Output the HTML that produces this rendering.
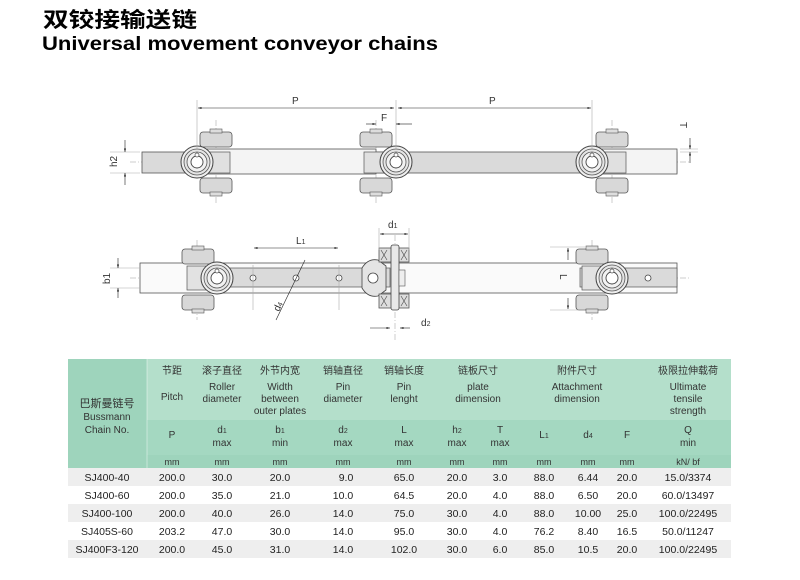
<!DOCTYPE html>
<html><head><meta charset="utf-8"><style>
body{margin:0;background:#fff;width:800px;height:580px;overflow:hidden}
svg{display:block}
text{font-family:"Liberation Sans","Noto Sans CJK SC",sans-serif}
</style></head><body>
<svg width="800" height="580" viewBox="0 0 800 580" xmlns="http://www.w3.org/2000/svg">
<defs>
<marker id="a" viewBox="0 0 10 10" refX="10" refY="5" markerWidth="6" markerHeight="6" orient="auto-start-reverse"><path d="M0,2 L10,5 L0,8z" fill="#222"/></marker>
<g id="blk"><rect x="-16" y="0" width="32" height="15" rx="3" fill="#d8d8d8" stroke="#555" stroke-width="0.8"/><rect x="-6" y="-3" width="12" height="4" fill="#ddd" stroke="#555" stroke-width="0.6"/></g>
<g id="blkb"><rect x="-16" y="0" width="32" height="15" rx="3" fill="#d8d8d8" stroke="#555" stroke-width="0.8"/><rect x="-6" y="14" width="12" height="4" fill="#ddd" stroke="#555" stroke-width="0.6"/></g>
<g id="rol"><circle r="16" fill="#eee" stroke="#444" stroke-width="1"/><circle r="13" fill="#e4e4e4" stroke="#555" stroke-width="0.8"/><circle r="10" fill="#f2f2f2" stroke="#555" stroke-width="0.8"/><circle r="6" fill="#fff" stroke="#444" stroke-width="0.9"/><circle cy="-7" r="2" fill="#fff" stroke="#444" stroke-width="0.7"/></g>
<g id="brg"><rect x="-15" y="0" width="30" height="14" fill="#ddd" stroke="#555" stroke-width="0.8"/><path d="M-13,2 l6,10 M-7,2 l-6,10 M7,2 l6,10 M13,2 l-6,10" stroke="#555" stroke-width="0.7"/></g>
</defs>
<text x="43" y="27" font-size="21" font-weight="bold" textLength="154" lengthAdjust="spacingAndGlyphs">双铰接输送链</text>
<text x="42" y="50" font-size="19.5" font-weight="bold" textLength="396" lengthAdjust="spacingAndGlyphs">Universal movement conveyor chains</text>

<!-- TOP CHAIN -->
<g stroke="#999" stroke-width="0.5" stroke-dasharray="6,2,1,2"><line x1="130" y1="162" x2="690" y2="162"/><line x1="216" y1="120" x2="216" y2="205"/><line x1="376" y1="120" x2="376" y2="205"/><line x1="612" y1="120" x2="612" y2="205"/></g>
<rect x="142" y="152" width="535" height="21" fill="#dadada" stroke="#555" stroke-width="0.8"/>
<rect x="198" y="149" width="178" height="25" fill="#f4f4f4" stroke="#555" stroke-width="0.8"/>
<rect x="592" y="149" width="85" height="25" fill="#f4f4f4" stroke="#555" stroke-width="0.8"/>
<rect x="208" y="152" width="22" height="21" fill="#e0e0e0" stroke="#555" stroke-width="0.7"/>
<rect x="364" y="152" width="22" height="21" fill="#e0e0e0" stroke="#555" stroke-width="0.7"/>
<rect x="604" y="152" width="22" height="21" fill="#e0e0e0" stroke="#555" stroke-width="0.7"/>
<use href="#blk" x="216" y="132"/><use href="#blkb" x="216" y="178"/>
<use href="#blk" x="376" y="132"/><use href="#blkb" x="376" y="178"/>
<use href="#blk" x="612" y="132"/><use href="#blkb" x="612" y="178"/>
<use href="#rol" x="197" y="162"/><use href="#rol" x="396" y="162"/><use href="#rol" x="592" y="162"/>
<g stroke="#222" stroke-width="0.6" fill="none">
<line x1="197" y1="100" x2="197" y2="150" stroke="#aaa"/><line x1="396" y1="100" x2="396" y2="150" stroke="#aaa"/><line x1="592" y1="100" x2="592" y2="150" stroke="#aaa"/>
<line x1="198" y1="108" x2="394" y2="108" marker-start="url(#a)" marker-end="url(#a)"/>
<line x1="398" y1="108" x2="591" y2="108" marker-start="url(#a)" marker-end="url(#a)"/>
<line x1="366" y1="124" x2="376" y2="124" marker-end="url(#a)"/><line x1="412" y1="124" x2="396" y2="124" marker-end="url(#a)"/>
<line x1="110" y1="152" x2="140" y2="152" stroke="#aaa"/><line x1="110" y1="173" x2="140" y2="173" stroke="#aaa"/>
<line x1="125" y1="140" x2="125" y2="152" marker-end="url(#a)"/><line x1="125" y1="185" x2="125" y2="173" marker-end="url(#a)"/>
<line x1="680" y1="149" x2="698" y2="149" stroke="#aaa"/><line x1="680" y1="152" x2="698" y2="152" stroke="#aaa"/>
<line x1="690" y1="138" x2="690" y2="149" marker-end="url(#a)"/><line x1="690" y1="163" x2="690" y2="152" marker-end="url(#a)"/>
</g>
<g font-size="10" fill="#333">
<text x="292" y="104">P</text><text x="489" y="104">P</text><text x="381" y="121">F</text>
<text transform="translate(117,167) rotate(-90)">h2</text>
<text transform="translate(680,122) rotate(90)">T</text>
</g>

<!-- BOTTOM CHAIN -->
<g stroke="#999" stroke-width="0.5" stroke-dasharray="6,2,1,2"><line x1="130" y1="278" x2="690" y2="278"/><line x1="197" y1="240" x2="197" y2="320"/><line x1="592" y1="240" x2="592" y2="320"/><line x1="395" y1="235" x2="395" y2="340"/></g>
<rect x="140" y="263" width="537" height="30" fill="#fafafa" stroke="#555" stroke-width="0.8"/>
<rect x="200" y="268" width="190" height="19" fill="#dadada" stroke="#555" stroke-width="0.7"/>
<rect x="580" y="268" width="97" height="19" fill="#dadada" stroke="#555" stroke-width="0.7"/>
<rect x="187" y="266" width="22" height="24" fill="#e2e2e2" stroke="#555" stroke-width="0.7"/>
<rect x="582" y="266" width="22" height="24" fill="#e2e2e2" stroke="#555" stroke-width="0.7"/>
<use href="#blk" x="198" y="249"/><use href="#blkb" x="198" y="295"/>
<use href="#blk" x="592" y="249"/><use href="#blkb" x="592" y="295"/>
<use href="#rol" x="217" y="278"/><use href="#rol" x="612" y="278"/>
<g fill="#fff" stroke="#444" stroke-width="0.8"><circle cx="253" cy="278" r="3"/><circle cx="296" cy="278" r="3"/><circle cx="339" cy="278" r="3"/><circle cx="648" cy="278" r="3"/></g>
<path d="M362,268 Q368,258 378,260 L386,266 L386,290 L378,296 Q368,298 362,288z" fill="#e4e4e4" stroke="#444" stroke-width="0.8"/>
<circle cx="373" cy="278" r="5" fill="#fff" stroke="#444" stroke-width="0.8"/>
<use href="#brg" x="394" y="248"/><use href="#brg" x="394" y="294"/>
<rect x="391" y="245" width="8" height="65" rx="2" fill="#e8e8e8" stroke="#444" stroke-width="0.8"/>
<rect x="399" y="270" width="6" height="16" fill="#eee" stroke="#555" stroke-width="0.6"/>
<g stroke="#222" stroke-width="0.6" fill="none">
<line x1="253" y1="265" x2="253" y2="310" stroke="#aaa"/><line x1="339" y1="265" x2="339" y2="310" stroke="#aaa"/>
<line x1="254" y1="248" x2="338" y2="248" marker-start="url(#a)" marker-end="url(#a)"/>
<line x1="379" y1="228" x2="379" y2="250" stroke="#aaa"/><line x1="409" y1="228" x2="409" y2="250" stroke="#aaa"/>
<line x1="380" y1="234" x2="408" y2="234" marker-start="url(#a)" marker-end="url(#a)"/>
<line x1="370" y1="328" x2="390" y2="328" marker-end="url(#a)"/><line x1="410" y1="328" x2="400" y2="328" marker-end="url(#a)"/>
<line x1="305" y1="260" x2="276" y2="320"/>
<line x1="550" y1="247" x2="585" y2="247" stroke="#aaa"/><line x1="550" y1="310" x2="585" y2="310" stroke="#aaa"/>
<line x1="568" y1="260" x2="568" y2="248" marker-end="url(#a)"/><line x1="568" y1="298" x2="568" y2="309" marker-end="url(#a)"/>
<line x1="110" y1="268" x2="140" y2="268" stroke="#aaa"/><line x1="110" y1="288" x2="140" y2="288" stroke="#aaa"/>
<line x1="118" y1="258" x2="118" y2="268" marker-end="url(#a)"/><line x1="118" y1="298" x2="118" y2="288" marker-end="url(#a)"/>
</g>
<g font-size="10" fill="#333">
<text x="296" y="244">L<tspan font-size="7">1</tspan></text>
<text x="388" y="228">d<tspan font-size="7">1</tspan></text>
<text x="421" y="326">d<tspan font-size="7">2</tspan></text>
<text transform="translate(279,312) rotate(-65)">d<tspan font-size="7">4</tspan></text>
<text transform="translate(560,274) rotate(90)">L</text>
<text transform="translate(110,284) rotate(-90)">b1</text>
</g>

<!-- TABLE -->
<rect x="68" y="359" width="663" height="109" fill="#9ed4bc"/>
<rect x="147" y="359" width="584" height="61" fill="#b4dfcb"/>
<rect x="147" y="420" width="584" height="35" fill="#a4d8c1"/>
<rect x="68" y="468" width="663" height="18" fill="#eeeeee"/>
<rect x="68" y="504" width="663" height="18" fill="#eeeeee"/>
<rect x="68" y="540" width="663" height="18" fill="#eeeeee"/>
<g stroke="#fff" stroke-width="0.6" opacity="0.7"><line x1="147" y1="359" x2="147" y2="468"/></g>
<g font-size="10" fill="#333" text-anchor="middle">
<text x="107" y="407" font-size="11">巴斯曼链号</text>
<text x="107" y="420">Bussmann</text>
<text x="107" y="433">Chain No.</text>
<text x="172" y="374">节距</text><text x="172" y="400">Pitch</text>
<text x="222" y="374">滚子直径</text><text x="222" y="390">Roller</text><text x="222" y="402">diameter</text>
<text x="280" y="374">外节内宽</text><text x="280" y="390">Width</text><text x="280" y="402">between</text><text x="280" y="414">outer plates</text>
<text x="343" y="374">销轴直径</text><text x="343" y="390">Pin</text><text x="343" y="402">diameter</text>
<text x="404" y="374">销轴长度</text><text x="404" y="390">Pin</text><text x="404" y="402">lenght</text>
<text x="478" y="374">链板尺寸</text><text x="478" y="390">plate</text><text x="478" y="402">dimension</text>
<text x="577" y="374">附件尺寸</text><text x="577" y="390">Attachment</text><text x="577" y="402">dimension</text>
<text x="688" y="374">极限拉伸载荷</text><text x="688" y="390">Ultimate</text><text x="688" y="402">tensile</text><text x="688" y="414">strength</text>
<text x="172" y="438">P</text>
<text x="222" y="433">d<tspan font-size="7">1</tspan></text><text x="222" y="446">max</text>
<text x="280" y="433">b<tspan font-size="7">1</tspan></text><text x="280" y="446">min</text>
<text x="343" y="433">d<tspan font-size="7">2</tspan></text><text x="343" y="446">max</text>
<text x="404" y="433">L</text><text x="404" y="446">max</text>
<text x="457" y="433">h<tspan font-size="7">2</tspan></text><text x="457" y="446">max</text>
<text x="500" y="433">T</text><text x="500" y="446">max</text>
<text x="544" y="438">L<tspan font-size="7">1</tspan></text>
<text x="588" y="438">d<tspan font-size="7">4</tspan></text>
<text x="627" y="438">F</text>
<text x="688" y="433">Q</text><text x="688" y="446">min</text>
<g font-size="9"><text x="172" y="465">mm</text><text x="222" y="465">mm</text><text x="280" y="465">mm</text><text x="343" y="465">mm</text><text x="404" y="465">mm</text><text x="457" y="465">mm</text><text x="500" y="465">mm</text><text x="544" y="465">mm</text><text x="588" y="465">mm</text><text x="627" y="465">mm</text><text x="688" y="465">kN/ bf</text></g>
</g>
<g font-size="10.5" fill="#222" text-anchor="middle">
<g transform="translate(0,481)"><text x="107">SJ400-40</text><text x="172">200.0</text><text x="222">30.0</text><text x="280">20.0</text><text x="346">9.0</text><text x="404">65.0</text><text x="457">20.0</text><text x="500">3.0</text><text x="544">88.0</text><text x="588">6.44</text><text x="627">20.0</text><text x="688">15.0/3374</text></g>
<g transform="translate(0,499)"><text x="107">SJ400-60</text><text x="172">200.0</text><text x="222">35.0</text><text x="280">21.0</text><text x="343">10.0</text><text x="404">64.5</text><text x="457">20.0</text><text x="500">4.0</text><text x="544">88.0</text><text x="588">6.50</text><text x="627">20.0</text><text x="688">60.0/13497</text></g>
<g transform="translate(0,517)"><text x="107">SJ400-100</text><text x="172">200.0</text><text x="222">40.0</text><text x="280">26.0</text><text x="343">14.0</text><text x="404">75.0</text><text x="457">30.0</text><text x="500">4.0</text><text x="544">88.0</text><text x="588">10.00</text><text x="627">25.0</text><text x="688">100.0/22495</text></g>
<g transform="translate(0,535)"><text x="107">SJ405S-60</text><text x="172">203.2</text><text x="222">47.0</text><text x="280">30.0</text><text x="343">14.0</text><text x="404">95.0</text><text x="457">30.0</text><text x="500">4.0</text><text x="544">76.2</text><text x="588">8.40</text><text x="627">16.5</text><text x="688">50.0/11247</text></g>
<g transform="translate(0,553)"><text x="107">SJ400F3-120</text><text x="172">200.0</text><text x="222">45.0</text><text x="280">31.0</text><text x="343">14.0</text><text x="404">102.0</text><text x="457">30.0</text><text x="500">6.0</text><text x="544">85.0</text><text x="588">10.5</text><text x="627">20.0</text><text x="688">100.0/22495</text></g>
</g>
</svg>
</body></html>
